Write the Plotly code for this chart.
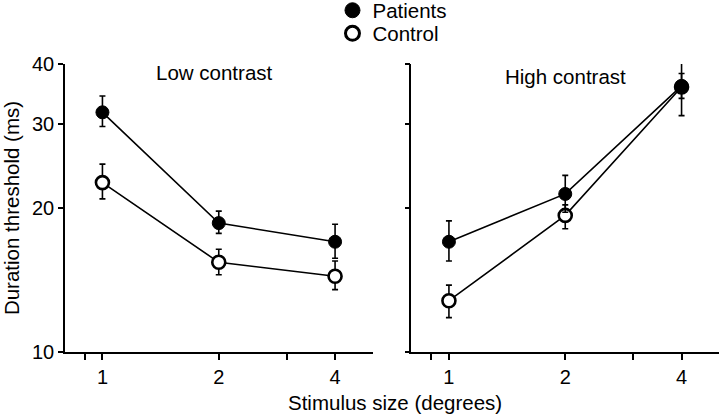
import plotly.graph_objects as go

FONT = "Liberation Sans, Arial, Helvetica, sans-serif"
FS = 20.5

sizes = [1, 2, 4]

# Low contrast panel
low_patients = [31.7, 18.6, 17.0]
low_patients_hi = [34.3, 19.7, 18.5]
low_patients_lo = [29.6, 17.7, 15.7]
low_control = [22.6, 15.4, 14.4]
low_control_hi = [24.7, 16.4, 15.5]
low_control_lo = [20.9, 14.5, 13.5]

# High contrast panel
high_patients = [17.0, 21.4, 36.0]
high_patients_hi = [18.8, 23.4, 40.5]
high_patients_lo = [15.5, 19.6, 31.2]
high_control = [12.8, 19.3, 35.8]
high_control_hi = [13.8, 20.3, 38.2]
high_control_lo = [11.8, 18.1, 33.9]

x_tickvals = [0.9, 1, 2, 3, 4]
x_ticktext = ["", "1", "2", "", "4"]
y_tickvals = [10, 20, 30, 40]
y_ticktext = ["10", "20", "30", "40"]

panel_titles = ["Low contrast", "High contrast"]


def err(vals, hi, lo):
    return dict(type="data", symmetric=False,
                array=[h - v for h, v in zip(hi, vals)],
                arrayminus=[v - l for v, l in zip(vals, lo)],
                color="black", thickness=1.6, width=3)


fig = go.Figure()

panels = [
    ("x", "y", low_patients, low_patients_hi, low_patients_lo,
     low_control, low_control_hi, low_control_lo),
    ("x2", "y2", high_patients, high_patients_hi, high_patients_lo,
     high_control, high_control_hi, high_control_lo),
]

for xa, ya, p, phi, plo, c, chi, clo in panels:
    fig.add_trace(go.Scatter(
        x=sizes, y=c, xaxis=xa, yaxis=ya, mode="lines+markers",
        line=dict(color="black", width=1.6),
        marker=dict(symbol="circle", size=13, color="white",
                    line=dict(color="black", width=2.6)),
        error_y=err(c, chi, clo), showlegend=False, name="Control"))
    fig.add_trace(go.Scatter(
        x=sizes, y=p, xaxis=xa, yaxis=ya, mode="lines+markers",
        line=dict(color="black", width=1.6),
        marker=dict(symbol="circle", size=13, color="black",
                    line=dict(color="black", width=1)),
        error_y=err(p, phi, plo), showlegend=False, name="Patients"))

# legend entries (one legend each so their spacing can follow the reference)
fig.add_trace(go.Scatter(x=[None], y=[None], mode="markers", name="Patients",
                         legend="legend",
                         marker=dict(symbol="circle", size=15, color="black",
                                     line=dict(color="black", width=1))))
fig.add_trace(go.Scatter(x=[None], y=[None], mode="markers", name="Control",
                         legend="legend2",
                         marker=dict(symbol="circle", size=14, color="white",
                                     line=dict(color="black", width=3))))

xaxis_common = dict(type="log", range=[-0.09691, 0.69897],
                    tickvals=x_tickvals, ticktext=x_ticktext,
                    ticks="outside", ticklen=6, tickwidth=1.5, tickcolor="black",
                    showline=True, linecolor="black", linewidth=1.5,
                    showgrid=False, zeroline=False,
                    tickfont=dict(family=FONT, size=20, color="black"))
yaxis_common = dict(type="log", range=[1, 1.60206],
                    tickvals=y_tickvals, ticktext=y_ticktext,
                    ticks="outside", ticklen=5, tickwidth=1.5, tickcolor="black",
                    showline=True, linecolor="black", linewidth=1.5,
                    showgrid=False, zeroline=False,
                    tickfont=dict(family=FONT, size=20, color="black"))

legend_common = dict(xanchor="left", yanchor="middle",
                     font=dict(family=FONT, size=FS, color="black"),
                     bgcolor="rgba(0,0,0,0)", itemwidth=30)

fig.update_layout(
    width=720, height=415,
    margin=dict(l=65, r=1, t=64, b=63, autoexpand=False),
    paper_bgcolor="white", plot_bgcolor="white",
    font=dict(family=FONT, size=FS, color="black"),
    xaxis=dict(domain=[0, 0.4702], **xaxis_common),
    xaxis2=dict(domain=[0.5298, 1], anchor="y2", **xaxis_common),
    yaxis=dict(domain=[0, 1], anchor="x",
               title=dict(text="Duration threshold (ms)",
                          font=dict(family=FONT, size=FS, color="black"),
                          standoff=10),
               **yaxis_common),
    yaxis2=dict(domain=[0, 1], anchor="x2", showticklabels=False,
                **yaxis_common),
    legend=dict(x=0.409, y=1.186, **legend_common),
    legend2=dict(x=0.409, y=1.106, **legend_common),
    showlegend=True,
    annotations=[
        dict(text=panel_titles[0], xref="paper", yref="paper", x=0.229, y=0.972,
             xanchor="center", yanchor="middle", showarrow=False,
             font=dict(family=FONT, size=FS, color="black")),
        dict(text=panel_titles[1], xref="paper", yref="paper", x=0.765, y=0.958,
             xanchor="center", yanchor="middle", showarrow=False,
             font=dict(family=FONT, size=FS, color="black")),
        dict(text="Stimulus size (degrees)", xref="paper", yref="paper",
             x=0.505, y=-0.177, xanchor="center", yanchor="middle",
             showarrow=False, font=dict(family=FONT, size=FS, color="black")),
    ],
)

fig.write_html("out.html", config={"displayModeBar": False},
               post_script="document.body.style.margin='0';")
